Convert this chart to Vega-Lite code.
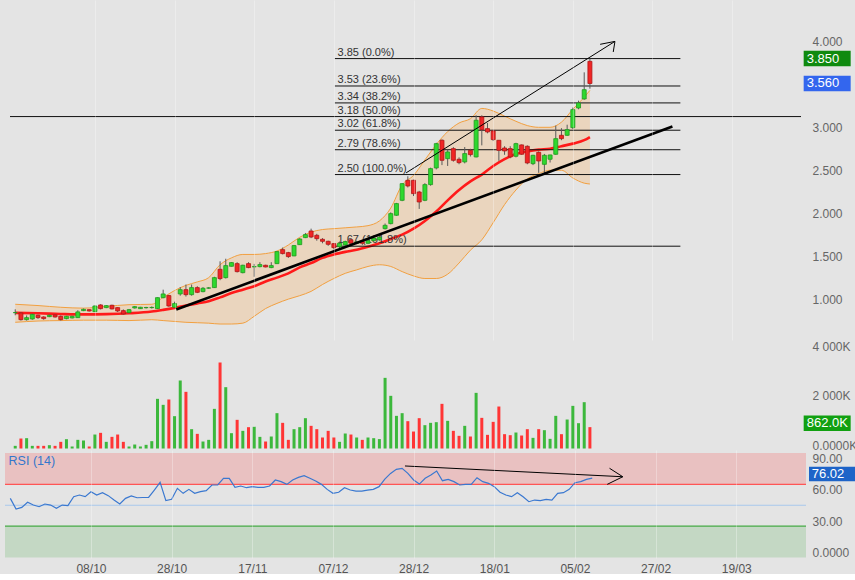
{
"$schema":"https://vega.github.io/schema/vega-lite/v6.json",
"background":"#e4e4e4",
"padding":{"left":4,"top":0,"right":0,"bottom":0},
"spacing":0,
"bounds":"flush",
"config":{"view":{"stroke":null},"font":"Liberation Sans"},
"datasets":{
"k":[
{"i":0,"o":0.893,"h":0.931,"l":0.862,"c":0.893,"v":107,"r":56.6},
{"i":1,"o":0.889,"h":0.900,"l":0.800,"c":0.811,"v":403,"r":46.4},
{"i":2,"o":0.811,"h":0.860,"l":0.800,"c":0.834,"v":417,"r":48.0},
{"i":3,"o":0.819,"h":0.880,"l":0.810,"c":0.873,"v":107,"r":52.8},
{"i":4,"o":0.862,"h":0.870,"l":0.820,"c":0.835,"v":107,"r":50.2},
{"i":5,"o":0.842,"h":0.850,"l":0.810,"c":0.823,"v":107,"r":48.6},
{"i":6,"o":0.846,"h":0.870,"l":0.840,"c":0.862,"v":134,"r":51.2},
{"i":7,"o":0.866,"h":0.875,"l":0.835,"c":0.842,"v":107,"r":50.2},
{"i":8,"o":0.850,"h":0.860,"l":0.800,"c":0.811,"v":269,"r":47.0},
{"i":9,"o":0.823,"h":0.855,"l":0.815,"c":0.850,"v":376,"r":50.2},
{"i":10,"o":0.831,"h":0.855,"l":0.825,"c":0.850,"v":81,"r":49.6},
{"i":11,"o":0.834,"h":0.920,"l":0.830,"c":0.901,"v":349,"r":58.2},
{"i":12,"o":0.916,"h":0.940,"l":0.910,"c":0.931,"v":323,"r":59.8},
{"i":13,"o":0.927,"h":0.930,"l":0.905,"c":0.912,"v":81,"r":58.2},
{"i":14,"o":0.904,"h":0.975,"l":0.900,"c":0.970,"v":564,"r":63.0},
{"i":15,"o":0.982,"h":0.990,"l":0.930,"c":0.939,"v":632,"r":59.8},
{"i":16,"o":0.951,"h":0.980,"l":0.945,"c":0.974,"v":269,"r":62.0},
{"i":17,"o":0.978,"h":0.985,"l":0.930,"c":0.936,"v":470,"r":59.2},
{"i":18,"o":0.951,"h":0.955,"l":0.900,"c":0.912,"v":564,"r":55.0},
{"i":19,"o":0.916,"h":0.930,"l":0.870,"c":0.877,"v":269,"r":51.2},
{"i":20,"o":0.893,"h":0.935,"l":0.885,"c":0.927,"v":81,"r":56.6},
{"i":21,"o":0.947,"h":0.970,"l":0.940,"c":0.962,"v":161,"r":58.9},
{"i":22,"o":0.939,"h":0.960,"l":0.935,"c":0.955,"v":81,"r":57.2},
{"i":23,"o":0.950,"h":0.960,"l":0.940,"c":0.952,"v":148,"r":57.4},
{"i":24,"o":0.951,"h":0.965,"l":0.940,"c":0.953,"v":296,"r":57.6},
{"i":25,"o":0.939,"h":1.070,"l":0.935,"c":1.067,"v":2003,"r":64.6},
{"i":26,"o":1.067,"h":1.160,"l":1.060,"c":1.110,"v":1761,"r":71.9},
{"i":27,"o":1.091,"h":1.100,"l":0.960,"c":0.970,"v":1976,"r":54.4},
{"i":28,"o":0.955,"h":1.020,"l":0.950,"c":0.998,"v":1304,"r":55.7},
{"i":29,"o":1.110,"h":1.190,"l":1.090,"c":1.160,"v":2742,"r":66.2},
{"i":30,"o":1.160,"h":1.220,"l":1.080,"c":1.102,"v":2285,"r":61.4},
{"i":31,"o":1.102,"h":1.220,"l":1.090,"c":1.184,"v":780,"r":65.2},
{"i":32,"o":1.184,"h":1.200,"l":1.120,"c":1.129,"v":591,"r":61.4},
{"i":33,"o":1.137,"h":1.190,"l":1.130,"c":1.176,"v":282,"r":63.0},
{"i":34,"o":1.178,"h":1.190,"l":1.170,"c":1.180,"v":349,"r":64.0},
{"i":35,"o":1.184,"h":1.310,"l":1.180,"c":1.300,"v":1599,"r":69.4},
{"i":36,"o":1.397,"h":1.490,"l":1.270,"c":1.289,"v":3468,"r":69.4},
{"i":37,"o":1.300,"h":1.520,"l":1.290,"c":1.440,"v":2473,"r":75.8},
{"i":38,"o":1.432,"h":1.480,"l":1.430,"c":1.475,"v":618,"r":75.8},
{"i":39,"o":1.463,"h":1.480,"l":1.360,"c":1.370,"v":1156,"r":67.1},
{"i":40,"o":1.358,"h":1.450,"l":1.350,"c":1.444,"v":712,"r":68.4},
{"i":41,"o":1.463,"h":1.480,"l":1.410,"c":1.417,"v":860,"r":66.8},
{"i":42,"o":1.426,"h":1.460,"l":1.310,"c":1.428,"v":874,"r":67.8},
{"i":43,"o":1.428,"h":1.480,"l":1.420,"c":1.452,"v":470,"r":67.1},
{"i":44,"o":1.444,"h":1.450,"l":1.420,"c":1.424,"v":282,"r":67.1},
{"i":45,"o":1.417,"h":1.480,"l":1.410,"c":1.440,"v":484,"r":68.4},
{"i":46,"o":1.463,"h":1.610,"l":1.460,"c":1.603,"v":1425,"r":74.2},
{"i":47,"o":1.626,"h":1.650,"l":1.570,"c":1.580,"v":1035,"r":72.6},
{"i":48,"o":1.591,"h":1.600,"l":1.530,"c":1.545,"v":349,"r":70.0},
{"i":49,"o":1.553,"h":1.680,"l":1.550,"c":1.673,"v":780,"r":74.2},
{"i":50,"o":1.684,"h":1.760,"l":1.680,"c":1.750,"v":860,"r":76.7},
{"i":51,"o":1.766,"h":1.820,"l":1.760,"c":1.801,"v":1223,"r":78.3},
{"i":52,"o":1.843,"h":1.870,"l":1.760,"c":1.773,"v":914,"r":75.8},
{"i":53,"o":1.793,"h":1.810,"l":1.730,"c":1.754,"v":780,"r":73.2},
{"i":54,"o":1.746,"h":1.760,"l":1.700,"c":1.723,"v":444,"r":70.0},
{"i":55,"o":1.723,"h":1.730,"l":1.670,"c":1.688,"v":712,"r":65.2},
{"i":56,"o":1.696,"h":1.700,"l":1.630,"c":1.649,"v":444,"r":61.4},
{"i":57,"o":1.660,"h":1.720,"l":1.640,"c":1.700,"v":269,"r":62.4},
{"i":58,"o":1.680,"h":1.730,"l":1.670,"c":1.720,"v":605,"r":66.8},
{"i":59,"o":1.740,"h":1.760,"l":1.690,"c":1.700,"v":564,"r":64.6},
{"i":60,"o":1.700,"h":1.730,"l":1.690,"c":1.715,"v":444,"r":63.6},
{"i":61,"o":1.720,"h":1.730,"l":1.680,"c":1.700,"v":349,"r":63.6},
{"i":62,"o":1.700,"h":1.750,"l":1.690,"c":1.730,"v":444,"r":64.4},
{"i":63,"o":1.730,"h":1.770,"l":1.720,"c":1.760,"v":417,"r":65.2},
{"i":64,"o":1.740,"h":1.790,"l":1.730,"c":1.770,"v":380,"r":67.8},
{"i":65,"o":1.870,"h":1.930,"l":1.860,"c":1.909,"v":2849,"r":75.1},
{"i":66,"o":1.929,"h":2.060,"l":1.920,"c":2.045,"v":2124,"r":80.5},
{"i":67,"o":2.026,"h":2.170,"l":2.020,"c":2.162,"v":1317,"r":84.4},
{"i":68,"o":2.200,"h":2.400,"l":2.190,"c":2.394,"v":1425,"r":85.3},
{"i":69,"o":2.433,"h":2.480,"l":2.350,"c":2.367,"v":1102,"r":80.5},
{"i":70,"o":2.433,"h":2.440,"l":2.250,"c":2.278,"v":685,"r":74.2},
{"i":71,"o":2.297,"h":2.310,"l":2.100,"c":2.181,"v":1223,"r":70.3},
{"i":72,"o":2.200,"h":2.400,"l":2.190,"c":2.383,"v":941,"r":75.8},
{"i":73,"o":2.383,"h":2.580,"l":2.370,"c":2.569,"v":1035,"r":78.9},
{"i":74,"o":2.577,"h":2.870,"l":2.560,"c":2.860,"v":1062,"r":82.8},
{"i":75,"o":2.899,"h":2.910,"l":2.610,"c":2.666,"v":1801,"r":73.5},
{"i":76,"o":2.685,"h":2.790,"l":2.600,"c":2.763,"v":1116,"r":74.8},
{"i":77,"o":2.802,"h":2.820,"l":2.650,"c":2.666,"v":712,"r":72.6},
{"i":78,"o":2.678,"h":2.700,"l":2.620,"c":2.639,"v":511,"r":69.4},
{"i":79,"o":2.647,"h":2.820,"l":2.630,"c":2.744,"v":914,"r":70.0},
{"i":80,"o":2.782,"h":2.800,"l":2.710,"c":2.732,"v":484,"r":70.0},
{"i":81,"o":2.705,"h":3.190,"l":2.700,"c":3.132,"v":2244,"r":76.4},
{"i":82,"o":3.171,"h":3.190,"l":2.840,"c":3.023,"v":1236,"r":72.6},
{"i":83,"o":3.035,"h":3.100,"l":2.980,"c":2.996,"v":551,"r":71.0},
{"i":84,"o":3.008,"h":3.020,"l":2.890,"c":2.907,"v":1075,"r":67.8},
{"i":85,"o":2.899,"h":2.900,"l":2.660,"c":2.782,"v":1693,"r":62.4},
{"i":86,"o":2.809,"h":2.830,"l":2.730,"c":2.775,"v":578,"r":59.8},
{"i":87,"o":2.802,"h":2.830,"l":2.690,"c":2.705,"v":538,"r":58.2},
{"i":88,"o":2.713,"h":2.870,"l":2.700,"c":2.860,"v":645,"r":62.0},
{"i":89,"o":2.845,"h":2.850,"l":2.730,"c":2.736,"v":524,"r":58.2},
{"i":90,"o":2.829,"h":2.840,"l":2.620,"c":2.635,"v":780,"r":53.4},
{"i":91,"o":2.627,"h":2.730,"l":2.610,"c":2.724,"v":430,"r":55.0},
{"i":92,"o":2.759,"h":2.770,"l":2.520,"c":2.658,"v":780,"r":54.4},
{"i":93,"o":2.619,"h":2.740,"l":2.500,"c":2.724,"v":739,"r":55.7},
{"i":94,"o":2.678,"h":2.730,"l":2.640,"c":2.728,"v":390,"r":55.0},
{"i":95,"o":2.736,"h":3.070,"l":2.730,"c":2.918,"v":1317,"r":61.4},
{"i":96,"o":2.957,"h":3.040,"l":2.900,"c":2.918,"v":578,"r":62.0},
{"i":97,"o":2.957,"h":3.080,"l":2.950,"c":3.023,"v":1169,"r":65.2},
{"i":98,"o":3.046,"h":3.280,"l":3.030,"c":3.256,"v":1720,"r":71.6},
{"i":99,"o":3.275,"h":3.360,"l":3.260,"c":3.333,"v":1021,"r":72.6},
{"i":100,"o":3.380,"h":3.690,"l":3.370,"c":3.488,"v":1868,"r":74.8},
{"i":101,"o":3.818,"h":3.850,"l":3.500,"c":3.560,"v":862,"r":76.02}
],
"boll":[
{"i":0,"ma":0.890,"up":0.990,"lo":0.780},
{"i":4,"ma":0.885,"up":0.975,"lo":0.795},
{"i":8,"ma":0.877,"up":0.955,"lo":0.800},
{"i":12,"ma":0.872,"up":0.945,"lo":0.805},
{"i":16,"ma":0.875,"up":0.965,"lo":0.805},
{"i":20,"ma":0.885,"up":0.985,"lo":0.800},
{"i":24,"ma":0.905,"up":0.990,"lo":0.810},
{"i":26,"ma":0.925,"up":1.070,"lo":0.800},
{"i":28,"ma":0.948,"up":1.150,"lo":0.790},
{"i":30,"ma":0.975,"up":1.210,"lo":0.780},
{"i":32,"ma":1.000,"up":1.250,"lo":0.775},
{"i":34,"ma":1.025,"up":1.300,"lo":0.770},
{"i":36,"ma":1.070,"up":1.450,"lo":0.760},
{"i":38,"ma":1.120,"up":1.530,"lo":0.760},
{"i":40,"ma":1.160,"up":1.570,"lo":0.770},
{"i":42,"ma":1.200,"up":1.570,"lo":0.850},
{"i":44,"ma":1.256,"up":1.580,"lo":0.940},
{"i":46,"ma":1.300,"up":1.610,"lo":1.000},
{"i":48,"ma":1.350,"up":1.680,"lo":1.050},
{"i":50,"ma":1.420,"up":1.770,"lo":1.090},
{"i":52,"ma":1.470,"up":1.830,"lo":1.140},
{"i":54,"ma":1.530,"up":1.860,"lo":1.220},
{"i":56,"ma":1.570,"up":1.870,"lo":1.290},
{"i":58,"ma":1.600,"up":1.880,"lo":1.350},
{"i":60,"ma":1.625,"up":1.890,"lo":1.390},
{"i":62,"ma":1.660,"up":1.905,"lo":1.430},
{"i":64,"ma":1.700,"up":1.960,"lo":1.450},
{"i":66,"ma":1.750,"up":2.110,"lo":1.430},
{"i":68,"ma":1.800,"up":2.380,"lo":1.370},
{"i":70,"ma":1.870,"up":2.490,"lo":1.320},
{"i":72,"ma":1.960,"up":2.670,"lo":1.290},
{"i":74,"ma":2.070,"up":2.850,"lo":1.290},
{"i":76,"ma":2.200,"up":3.000,"lo":1.340},
{"i":78,"ma":2.320,"up":3.100,"lo":1.470},
{"i":80,"ma":2.420,"up":3.150,"lo":1.620},
{"i":82,"ma":2.500,"up":3.270,"lo":1.740},
{"i":84,"ma":2.600,"up":3.240,"lo":1.940},
{"i":86,"ma":2.680,"up":3.180,"lo":2.150},
{"i":88,"ma":2.740,"up":3.120,"lo":2.320},
{"i":90,"ma":2.770,"up":3.070,"lo":2.450},
{"i":92,"ma":2.790,"up":3.050,"lo":2.510},
{"i":94,"ma":2.800,"up":3.050,"lo":2.550},
{"i":96,"ma":2.830,"up":3.110,"lo":2.550},
{"i":98,"ma":2.860,"up":3.260,"lo":2.460},
{"i":100,"ma":2.900,"up":3.400,"lo":2.400},
{"i":101,"ma":2.937,"up":3.480,"lo":2.390}
],
"fib":[
{"level":3.85,"label":"3.85  (0.0%)"},
{"level":3.531,"label":"3.53  (23.6%)"},
{"level":3.334,"label":"3.34  (38.2%)"},
{"level":3.175,"label":"3.18  (50.0%)"},
{"level":3.016,"label":"3.02  (61.8%)"},
{"level":2.789,"label":"2.79  (78.6%)"},
{"level":2.5,"label":"2.50  (100.0%)"},
{"level":1.666,"label":"1.67  (161.8%)"}
],
"trend":[
{"id":"support","i":28.3,"p":0.93},
{"id":"support","i":115.5,"p":3.06},
{"id":"up","i":68.7,"p":2.52},
{"id":"up","i":105.4,"p":4.05},
{"id":"h1","i":102.8,"p":4.016},
{"id":"h1","i":105.4,"p":4.05},
{"id":"h2","i":105.1,"p":3.927},
{"id":"h2","i":105.4,"p":4.05}
],
"rsizones":[
{"zone":"overbought","lo":70,"hi":100},
{"zone":"oversold","lo":0,"hi":30}
],
"rsilevels":[
{"lvl":70},{"lvl":50},{"lvl":30}
],
"rsiarrow":[
{"id":"a","i":68.5,"r":87.6},
{"id":"a","i":106.3,"r":77.3},
{"id":"b","i":104.0,"r":85.4},
{"id":"b","i":106.3,"r":77.3},
{"id":"c","i":103.6,"r":70.0},
{"id":"c","i":106.3,"r":77.3}
]
},
"vconcat":[
{
"width":801,"height":340,
"layer":[
{"data":{"name":"boll"},"mark":{"type":"area","interpolate":"monotone","color":"#ead5be","opacity":1},
 "encoding":{"x":{"field":"i","type":"quantitative","title":null,"scale":{"domain":[-0.92,138.1],"nice":false,"zero":false},"axis":{"values":[14,28,42,56,70,84,98,112,126],"tickCount":20,"labels":false,"ticks":false,"domain":false,"grid":true,"gridColor":"#ffffff","gridOpacity":0.3,"zindex":1}},
 "y":{"field":"up","type":"quantitative","title":null,"scale":{"domain":[0.574,4.532],"nice":false,"zero":false},"axis":{"orient":"right","values":[1,1.5,2,2.5,3,4],"tickCount":20,"format":".3f","labelPadding":6,"labelBaseline":"alphabetic","labelOverlap":false,"ticks":false,"tickSize":0,"domain":false,"grid":false,"labelColor":"#666666","labelFontSize":12}},
 "y2":{"field":"lo"}}},
{"data":{"name":"boll"},"mark":{"type":"line","interpolate":"monotone","color":"#f2a040","strokeWidth":1},
 "encoding":{"x":{"field":"i","type":"quantitative","title":null},"y":{"field":"up","type":"quantitative","title":null}}},
{"data":{"name":"boll"},"mark":{"type":"line","interpolate":"monotone","color":"#f2a040","strokeWidth":1},
 "encoding":{"x":{"field":"i","type":"quantitative","title":null},"y":{"field":"lo","type":"quantitative","title":null}}},
{"data":{"name":"boll"},"mark":{"type":"line","interpolate":"monotone","color":"#ff1a1a","strokeWidth":2.6},
 "encoding":{"x":{"field":"i","type":"quantitative","title":null},"y":{"field":"ma","type":"quantitative","title":null}}},
{"data":{"name":"fib"},"transform":[{"filter":"datum.level != 3.175"}],"mark":{"type":"rule","color":"#111111","strokeWidth":1},
 "encoding":{"x":{"datum":56.18,"type":"quantitative"},"x2":{"datum":116.9},"y":{"field":"level","type":"quantitative","title":null}}},
{"data":{"name":"fib"},"transform":[{"filter":"datum.level == 3.175"}],"mark":{"type":"rule","color":"#111111","strokeWidth":1},
 "encoding":{"x":{"datum":-0.92,"type":"quantitative"},"x2":{"datum":138.1},"y":{"field":"level","type":"quantitative","title":null}}},
{"data":{"name":"fib"},"mark":{"type":"text","align":"left","baseline":"alphabetic","dy":-3,"fontSize":11,"color":"#333333"},
 "encoding":{"x":{"datum":56.65,"type":"quantitative"},"y":{"field":"level","type":"quantitative","title":null},"text":{"field":"label"}}},
{"data":{"name":"k"},"mark":{"type":"rule","color":"#5a5a5a","strokeWidth":1},
 "encoding":{"x":{"field":"i","type":"quantitative","title":null},"y":{"field":"l","type":"quantitative","title":null},"y2":{"field":"h"}}},
{"data":{"name":"k"},"mark":{"type":"bar","size":4,"strokeWidth":0.8,"orient":"vertical"},
 "encoding":{"x":{"field":"i","type":"quantitative","title":null},"y":{"field":"o","type":"quantitative","title":null},"y2":{"field":"c"},
 "fill":{"condition":{"test":"datum.c >= datum.o","value":"#2ed82e"},"value":"#f02525"},
 "stroke":{"condition":{"test":"datum.c >= datum.o","value":"#1f9a1f"},"value":"#b01515"}}},
{"data":{"name":"trend"},"transform":[{"filter":"datum.id == 'support'"}],"mark":{"type":"line","color":"#000000","strokeWidth":2.6},
 "encoding":{"x":{"field":"i","type":"quantitative","title":null},"y":{"field":"p","type":"quantitative","title":null},"detail":{"field":"id"}}},
{"data":{"name":"trend"},"transform":[{"filter":"datum.id != 'support'"}],"mark":{"type":"line","color":"#000000","strokeWidth":1},
 "encoding":{"x":{"field":"i","type":"quantitative","title":null},"y":{"field":"p","type":"quantitative","title":null},"detail":{"field":"id"}}},
{"mark":{"type":"text","align":"left","baseline":"middle","fontSize":12.5,"color":"#7a7a7a","text":"SHOWROOMPRIVE - abcbourse.com"},
 "encoding":{"x":{"datum":-0.92,"type":"quantitative"},"y":{"datum":4.436,"type":"quantitative"}}},
{"mark":{"type":"text","align":"right","baseline":"middle","fontSize":12.5,"color":"#999999","text":"1 AN - JOUR"},
 "encoding":{"x":{"datum":138.1,"type":"quantitative"},"y":{"datum":4.436,"type":"quantitative"}}},
{"mark":{"type":"text","align":"left","baseline":"middle","fontSize":12.5,"color":"#f0a030","text":"BOLL (20, 2)"},
 "encoding":{"x":{"datum":0.0,"type":"quantitative"},"y":{"datum":4.203,"type":"quantitative"}}},
{"mark":{"type":"text","align":"left","baseline":"middle","fontSize":12.5,"color":"#ff2020","text":"MM (20)"},
 "encoding":{"x":{"datum":14.6,"type":"quantitative"},"y":{"datum":4.203,"type":"quantitative"}}},
{"data":{"name":"k"},"transform":[{"filter":"datum.i == 101"}],"mark":{"type":"point","shape":"M-1,-0.33L1,-0.33L1,0.33L-1,0.33Z","size":2209,"filled":true,"opacity":1,"color":"#0f8a0f"},
 "encoding":{"x":{"datum":142.7,"type":"quantitative"},"y":{"field":"h","type":"quantitative","title":null}}},
{"data":{"name":"k"},"transform":[{"filter":"datum.i == 101"}],"mark":{"type":"point","shape":"M-1,-0.33L1,-0.33L1,0.33L-1,0.33Z","size":2209,"filled":true,"opacity":1,"color":"#3366ee"},
 "encoding":{"x":{"datum":142.7,"type":"quantitative"},"y":{"field":"c","type":"quantitative","title":null}}},
{"data":{"name":"k"},"transform":[{"filter":"datum.i == 101"}],"mark":{"type":"text","align":"left","baseline":"middle","fontSize":13,"color":"#ffffff"},
 "encoding":{"x":{"datum":139.1,"type":"quantitative"},"y":{"field":"h","type":"quantitative","title":null},"text":{"field":"h","type":"quantitative","format":".3f"}}},
{"data":{"name":"k"},"transform":[{"filter":"datum.i == 101"}],"mark":{"type":"text","align":"left","baseline":"middle","fontSize":13,"color":"#ffffff"},
 "encoding":{"x":{"datum":139.1,"type":"quantitative"},"y":{"field":"c","type":"quantitative","title":null},"text":{"field":"c","type":"quantitative","format":".3f"}}}
]
},
{
"width":801,"height":110,
"layer":[
{"data":{"name":"k"},"mark":{"type":"bar","size":3,"orient":"vertical"},
 "encoding":{"x":{"field":"i","type":"quantitative","title":null,"scale":{"domain":[-0.92,138.1],"nice":false,"zero":false},"axis":null},
 "y":{"field":"v","type":"quantitative","title":null,"scale":{"domain":[-60,4375],"nice":false,"zero":false},"axis":{"orient":"right","values":[0,2000,4000],"tickCount":20,"labelExpr":"datum.value == 0 ? '0.0000K' : replace(format(datum.value, ','), ',', ' ') + 'K'","labelPadding":6,"labelBaseline":"alphabetic","labelOffset":1,"labelOverlap":false,"ticks":false,"tickSize":0,"domain":false,"grid":false,"labelColor":"#666666","labelFontSize":12}},
 "color":{"condition":{"test":"datum.c >= datum.o","value":"#3cb83c"},"value":"#ff3535"}}},
{"mark":{"type":"text","align":"left","baseline":"middle","fontSize":12.5,"color":"#4cbb4c","text":"VOLUME"},
 "encoding":{"x":{"datum":0.0,"type":"quantitative"},"y":{"datum":3930,"type":"quantitative"}}},
{"data":{"name":"k"},"transform":[{"filter":"datum.i == 101"}],"mark":{"type":"point","shape":"M-1,-0.33L1,-0.33L1,0.33L-1,0.33Z","size":2209,"filled":true,"opacity":1,"color":"#11a011","yOffset":-4},
 "encoding":{"x":{"datum":142.7,"type":"quantitative"},"y":{"field":"v","type":"quantitative","title":null}}},
{"data":{"name":"k"},"transform":[{"filter":"datum.i == 101"}],"mark":{"type":"text","align":"left","baseline":"middle","fontSize":13,"color":"#ffffff","dy":-4,"text":{"expr":"format(datum.v, '.1f') + 'K'"}},
 "encoding":{"x":{"datum":139.1,"type":"quantitative"},"y":{"field":"v","type":"quantitative","title":null}}}
]
},
{
"width":801,"height":108,
"layer":[
{"data":{"name":"rsizones"},"mark":{"type":"rect"},
 "encoding":{"x":{"datum":-0.92,"type":"quantitative","scale":{"domain":[-0.92,138.1],"nice":false,"zero":false}},"x2":{"datum":138.1},
 "y":{"field":"lo","type":"quantitative","title":null,"scale":{"domain":[-0.5,102.9],"nice":false,"zero":false},"axis":{"orient":"right","values":[0,30,60,90],"tickCount":20,"labelExpr":"datum.value == 0 ? '0.0000' : format(datum.value, '.2f')","labelPadding":6,"labelBaseline":"alphabetic","labelOffset":-1,"labelOverlap":false,"labelBound":false,"labelFlush":false,"ticks":false,"tickSize":0,"domain":false,"grid":false,"labelColor":"#666666","labelFontSize":12}},
 "y2":{"field":"hi"},
 "color":{"condition":{"test":"datum.zone == 'overbought'","value":"#e9c1c1"},"value":"#c4d8c4"}}},
{"data":{"name":"rsilevels"},"mark":{"type":"rule","strokeWidth":1.2},
 "encoding":{"x":{"datum":-0.92,"type":"quantitative"},"x2":{"datum":138.1},"y":{"field":"lvl","type":"quantitative","title":null},
 "color":{"condition":[{"test":"datum.lvl == 70","value":"#ff5555"},{"test":"datum.lvl == 50","value":"#a8c8ec"}],"value":"#44aa44"}}},
{"data":{"name":"k"},"mark":{"type":"line","color":"#3a78d0","strokeWidth":1.2},
 "encoding":{"x":{"field":"i","type":"quantitative","title":null,"axis":{"values":[14,28,42,56,70,84,98,112,126],"tickCount":20,"labelExpr":"['08/10','28/10','17/11','07/12','28/12','18/01','05/02','27/02','19/03'][round(datum.value/14) - 1]","ticks":false,"tickSize":0,"domain":false,"grid":true,"gridColor":"#ffffff","gridOpacity":0.3,"labelColor":"#555555","labelFontSize":12,"labelPadding":5,"zindex":1}},
 "y":{"field":"r","type":"quantitative","title":null}}},
{"data":{"name":"rsiarrow"},"mark":{"type":"line","color":"#000000","strokeWidth":1},
 "encoding":{"x":{"field":"i","type":"quantitative","title":null},"y":{"field":"r","type":"quantitative","title":null},"detail":{"field":"id"}}},
{"data":{"name":"rsilevels"},"transform":[{"filter":"datum.lvl == 70"}],"mark":{"type":"text","align":"left","baseline":"middle","fontSize":12.5,"color":"#3377cc","text":"RSI (14)"},
 "encoding":{"x":{"datum":-0.3,"type":"quantitative"},"y":{"datum":92.3,"type":"quantitative"}}},
{"data":{"name":"k"},"transform":[{"filter":"datum.i == 101"}],"mark":{"type":"point","shape":"M-1,-0.31L1,-0.31L1,0.31L-1,0.31Z","size":2209,"filled":true,"opacity":1,"color":"#1e64c8","yOffset":-4},
 "encoding":{"x":{"datum":142.7,"type":"quantitative"},"y":{"field":"r","type":"quantitative","title":null}}},
{"data":{"name":"k"},"transform":[{"filter":"datum.i == 101"}],"mark":{"type":"text","align":"left","baseline":"middle","fontSize":13,"color":"#ffffff","dy":-4},
 "encoding":{"x":{"datum":139.1,"type":"quantitative"},"y":{"field":"r","type":"quantitative","title":null},"text":{"field":"r","type":"quantitative","format":".2f"}}}
]
}
]
}
